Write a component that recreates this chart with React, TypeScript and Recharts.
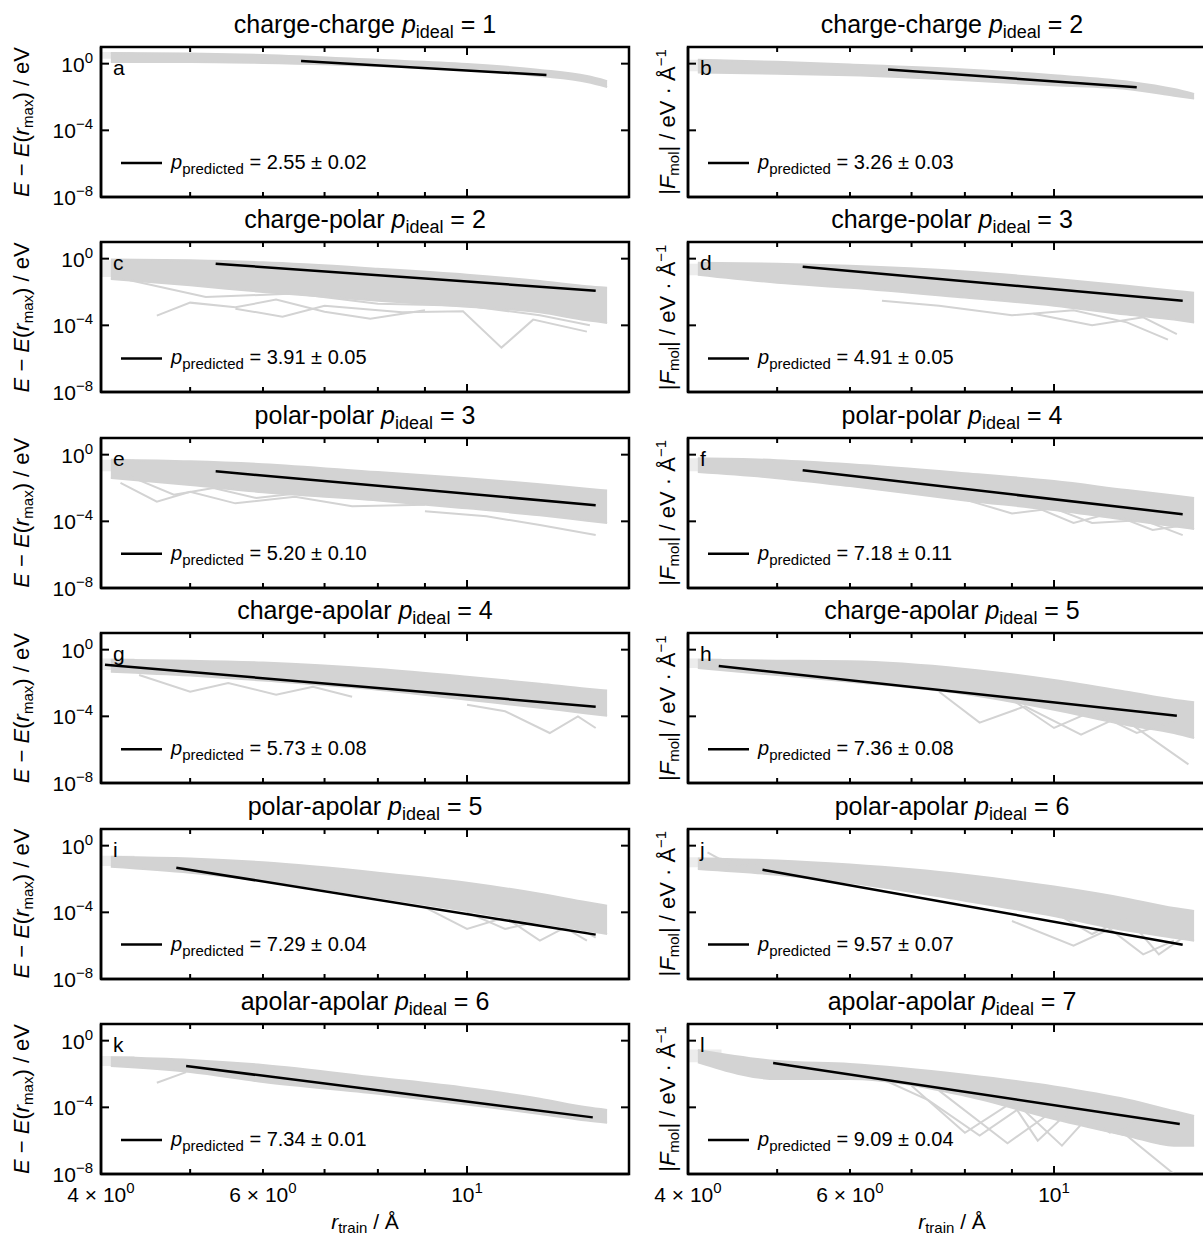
import { ComposedChart, Area, Line, XAxis, YAxis, ReferenceArea } from 'recharts';

const FONT = '"Liberation Sans", Arial, Helvetica, sans-serif';
const GREY = '#d3d3d3';
const FAINT = '#ececec';

// panel titles and fit results
const pairNames = ['charge-charge', 'charge-polar', 'polar-polar', 'charge-apolar', 'polar-apolar', 'apolar-apolar'];
const pIdealEnergy = [1, 2, 3, 4, 5, 6];
const pIdealForce = [2, 3, 4, 5, 6, 7];
const panelLetters = ['a', 'b', 'c', 'd', 'e', 'f', 'g', 'h', 'i', 'j', 'k', 'l'];
const pPredicted = ['2.55', '3.26', '3.91', '4.91', '5.20', '7.18', '5.73', '7.36', '7.29', '9.57', '7.34', '9.09'];
const pError = ['0.02', '0.03', '0.05', '0.05', '0.10', '0.11', '0.08', '0.08', '0.04', '0.07', '0.01', '0.04'];

// axis ticks
const xTicks = [4, 5, 6, 7, 8, 9, 10];
const xLabelValues = [4, 6, 10];
const xLabelBase = ['4 \u00d7 10', '6 \u00d7 10', '10'];
const xLabelExp = ['0', '0', '1'];
const yTicks = [1e-8, 1e-4, 1];
const yLabelExp = ['\u22128', '\u22124', '0'];

// r_train positions where the grey envelope of all curves was read
const bandX = [4.1, 5, 6, 8, 10, 12, 13.5, 14.2];

// envelope of the grey curves, upper and lower edge per panel
const upperA = [4.4, 4.1, 3.3, 1.7, 0.96, 0.42, 0.18, 0.09];
const lowerA = [1.26, 1.26, 1.1, 0.73, 0.42, 0.18, 0.08, 0.04];
const upperB = [1.7, 1.3, 0.9, 0.45, 0.2, 0.085, 0.03, 0.015];
const lowerB = [0.3, 0.25, 0.2, 0.1, 0.05, 0.03, 0.012, 0.008];
const upperC = [0.9, 0.8, 0.6, 0.25, 0.11, 0.045, 0.022, 0.018];
const lowerC = [0.06, 0.025, 0.01, 3e-3, 1.3e-3, 6e-4, 2e-4, 1.4e-4];
const upperD = [0.57, 0.5, 0.38, 0.17, 0.063, 0.024, 0.012, 0.009];
const lowerD = [0.11, 0.036, 0.018, 4.6e-3, 1.5e-3, 4.4e-4, 2.2e-4, 1.5e-4];
const upperE = [0.5, 0.4, 0.27, 0.09, 0.039, 0.017, 9e-3, 7e-3];
const lowerE = [0.04, 0.015, 5.6e-3, 1.8e-3, 6e-4, 2.3e-4, 1.1e-4, 8e-5];
const upperF = [0.6, 0.47, 0.27, 0.078, 0.026, 7.5e-3, 3.5e-3, 2.5e-3];
const lowerF = [0.09, 0.039, 0.013, 1.8e-3, 4.7e-4, 1.2e-4, 5e-5, 3.5e-5];
const upperG = [0.25, 0.22, 0.17, 0.07, 0.024, 9e-3, 4.5e-3, 3.5e-3];
const lowerG = [0.048, 0.028, 0.014, 4e-3, 1e-3, 3.3e-4, 1.5e-4, 1.1e-4];
const upperH = [0.25, 0.22, 0.2, 0.07, 0.015, 3e-3, 1e-3, 7e-4];
const lowerH = [0.08, 0.03, 0.012, 2.2e-3, 2.5e-4, 3e-5, 1e-5, 5e-6];
const upperI = [0.22, 0.17, 0.1, 0.024, 6e-3, 1.3e-3, 4e-4, 2.5e-4];
const lowerI = [0.055, 0.024, 8e-3, 8e-4, 1.2e-4, 2.2e-5, 8e-6, 5e-6];
const upperJ = [0.17, 0.13, 0.073, 0.018, 3.5e-3, 6.6e-4, 1.8e-4, 1.2e-4];
const lowerJ = [0.04, 0.018, 6e-3, 5e-4, 6e-5, 8e-6, 3e-6, 2e-6];
const upperK = [0.1, 0.07, 0.035, 6e-3, 1.45e-3, 3.3e-4, 1e-4, 7e-5];
const lowerK = [0.03, 0.013, 3.3e-3, 6.5e-4, 1.5e-4, 4e-5, 1.6e-5, 1.2e-5];
const upperL = [0.28, 0.06, 0.04, 9e-3, 1.8e-3, 3e-4, 6e-5, 3e-5];
const lowerL = [0.05, 5e-3, 5e-3, 5e-4, 2e-5, 2e-6, 5e-7, 5e-7];

// pale start of the curves at the smallest r_train: x range, upper, lower per panel
const faintX = [4.0, 4.35];
const faintUpper = [5, 1.7, 0.8, 0.5, 0.5, 0.6, 0.3, 0.3, 0.25, 0.2, 0.12, 0.3];
const faintLower = [2, 0.35, 0.08, 0.1, 0.1, 0.1, 0.06, 0.08, 0.06, 0.05, 0.03, 0.05];

// black power-law fit: start and end points
const fitX0 = [6.6, 6.6, 5.33, 5.33, 5.33, 5.33, 4.04, 4.32, 4.83, 4.82, 4.95, 4.95];
const fitX1 = [12.2, 12.3, 13.8, 13.8, 13.8, 13.8, 13.8, 13.6, 13.8, 13.8, 13.7, 13.7];
const fitY0 = [1.45, 0.45, 0.5, 0.33, 0.1, 0.117, 0.126, 0.105, 0.048, 0.036, 0.03, 0.046];
const fitY1 = [0.21, 0.038, 0.012, 3e-3, 9.3e-4, 2.7e-4, 3.8e-4, 1.1e-4, 4.6e-6, 1.15e-6, 2.5e-5, 1e-5];

// single grey curves that stick out of the envelope, [r, value]
const outC1 = [[4.6, 3.8e-4], [5.0, 2.3e-3], [5.6, 1.2e-3], [6.2, 3.5e-3], [7.0, 6.6e-4], [7.85, 2.5e-4], [9.0, 8e-4]];
const outC2 = [[5.6, 1e-3], [6.3, 3.3e-4], [7.0, 1.5e-3], [8.5, 6e-4], [9.9, 7e-4], [10.9, 4.6e-6], [11.8, 2.2e-4], [13.5, 4.2e-5]];
const outC3 = [[4.3, 0.05], [5.2, 5e-3], [6.5, 8e-3], [8, 2e-3], [10, 1.5e-3], [12, 4e-4], [13.6, 1e-4]];
const outD1 = [[6.5, 3e-3], [7.5, 1.5e-3], [9, 4e-4], [10.5, 8e-4], [12, 1.5e-4], [13.3, 1.4e-5]];
const outD2 = [[9.5, 5e-4], [11, 1e-4], [12.5, 3e-4], [13.6, 3e-5]];
const outE1 = [[4.2, 0.02], [4.6, 1.5e-3], [5.0, 6e-3], [5.6, 1.2e-3], [6.5, 3e-3], [7.5, 8e-4], [9, 1e-3]];
const outE2 = [[9, 4e-4], [10.5, 2e-4], [12, 6e-5], [13.8, 1.5e-5]];
const outE3 = [[4.3, 0.05], [4.8, 4e-3], [5.3, 1e-2], [5.9, 2.5e-3], [6.6, 5e-3]];
const outF1 = [[8, 2e-3], [9, 3e-4], [10, 6e-4], [11, 8e-5], [12.5, 1.2e-4], [13.8, 1.5e-5]];
const outF2 = [[9.5, 8e-4], [10.5, 8e-5], [11.5, 3e-4], [12.8, 3e-5], [13.9, 6e-5]];
const outG1 = [[4.4, 3e-2], [5, 3e-3], [5.5, 1e-2], [6.2, 2e-3], [6.8, 6e-3], [7.5, 1.5e-3]];
const outG2 = [[10, 5e-4], [11, 2e-4], [12.3, 1e-5], [13.2, 1e-4], [13.8, 2e-5]];
const outH1 = [[7.5, 3e-3], [8.3, 4.2e-5], [9.3, 4e-4], [10.7, 8e-6], [11.8, 1e-4], [14, 1.3e-7]];
const outH2 = [[9, 1e-3], [10, 2e-5], [11, 2e-4], [12.3, 1e-5], [13.5, 5e-5]];
const outI1 = [[9, 2e-4], [10, 1e-5], [11, 5e-5], [12, 2e-6], [13, 2e-5], [13.8, 3e-6]];
const outI2 = [[10, 1e-4], [11, 1e-5], [12.3, 4e-5], [13.5, 2e-6]];
const outJ1 = [[9, 3e-5], [10.5, 1e-6], [11.5, 1e-5], [12.5, 3e-7], [13.5, 2e-6]];
const outJ2 = [[4.2, 0.4], [4.5, 0.05], [4.8, 0.1]];
const outJ3 = [[10, 1e-4], [11, 5e-6], [12, 5e-5], [13, 3e-7], [13.8, 3e-6]];
const outK1 = [[4.6, 3e-3], [4.95, 0.013]];
const outL1 = [[7.0, 2e-3], [8.0, 3e-6], [9.0, 2e-4], [9.6, 1e-6], [10.5, 1e-4], [11.5, 3e-6], [12.5, 2e-5]];
const outL2 = [[7.5, 1e-3], [8.9, 7e-7], [9.8, 3e-5], [12, 2e-6], [13.5, 1e-8]];
const outL3 = [[6.5, 5e-3], [7.3, 2.7e-4], [8.3, 2e-6], [9.2, 1e-4], [10.2, 5e-7], [11, 5e-5]];

const uppers = [upperA, upperB, upperC, upperD, upperE, upperF, upperG, upperH, upperI, upperJ, upperK, upperL];
const lowers = [lowerA, lowerB, lowerC, lowerD, lowerE, lowerF, lowerG, lowerH, lowerI, lowerJ, lowerK, lowerL];
const outliers = [
  [], [], [outC1, outC2, outC3], [outD1, outD2], [outE1, outE2, outE3], [outF1, outF2],
  [outG1, outG2], [outH1, outH2], [outI1, outI2], [outJ1, outJ2, outJ3], [outK1], [outL1, outL2, outL3],
];

// layout
const PLOT_W = 528;
const PLOT_H = 150;
const COL_LEFT = [101, 688];
const ROW_TOP = 47;
const ROW_STEP = 195.4;
const ML = 70;
const MT = 6;
const MR = 6;
const MB = 40;
const AX = 1; // thin top / right axes so that they are drawn

const BottomTick = (props: any) => {
  const { x, y, payload, showLabel } = props;
  const v = payload.value;
  const len = v === 10 ? 8 : 5;
  const li = xLabelValues.indexOf(v);
  return (
    <g>
      <line x1={x} x2={x} y1={y} y2={y - len} stroke="#000" strokeWidth={2} />
      {showLabel && li >= 0 && (
        <text x={x} y={y + 28} textAnchor="middle" fontSize={21} fontFamily={FONT} fill="#000" style={{ whiteSpace: 'pre' }}>
          <tspan>{xLabelBase[li]}</tspan>
          <tspan fontSize={15} dy={-9}>{xLabelExp[li]}</tspan>
        </text>
      )}
    </g>
  );
};

const TopTick = (props: any) => {
  const { x, y, payload } = props;
  const len = payload.value === 10 ? 8 : 5;
  return <line x1={x} x2={x} y1={y} y2={y + len} stroke="#000" strokeWidth={2} />;
};

const LeftTick = (props: any) => {
  const { x, y, payload, showLabel } = props;
  const li = yTicks.indexOf(payload.value);
  return (
    <g>
      <line x1={x} x2={x + 8} y1={y} y2={y} stroke="#000" strokeWidth={2} />
      {showLabel && (
        <text x={x - 8} y={y + 8} textAnchor="end" fontSize={21} fontFamily={FONT} fill="#000">
          <tspan>10</tspan>
          <tspan fontSize={15} dy={-9}>{yLabelExp[li]}</tspan>
        </text>
      )}
    </g>
  );
};

const RightTick = (props: any) => {
  const { x, y } = props;
  return <line x1={x} x2={x - 8} y1={y} y2={y} stroke="#000" strokeWidth={2} />;
};

const spine = { stroke: '#000', strokeWidth: 2.5 };

const PanelChart = ({ idx }: { idx: number }) => {
  const row = Math.floor(idx / 2);
  const col = idx % 2;
  const left = COL_LEFT[col];
  const top = ROW_TOP + ROW_STEP * row;
  const band = bandX.map((x, i) => ({ x, band: [lowers[idx][i], uppers[idx][i]] }));
  const faint = faintX.map((x) => ({ x, band: [faintLower[idx], faintUpper[idx]] }));
  const fit = [
    { x: fitX0[idx], y: fitY0[idx] },
    { x: fitX1[idx], y: fitY1[idx] },
  ];
  return (
    <div style={{ position: 'absolute', left: left - ML, top: top - MT - AX }}>
      <ComposedChart
        width={ML + PLOT_W + AX + MR}
        height={MT + AX + PLOT_H + MB}
        margin={{ top: MT, right: MR, bottom: 0, left: 0 }}
      >
        <XAxis
          xAxisId="b"
          dataKey="x"
          type="number"
          scale="log"
          domain={[4, 15]}
          allowDataOverflow
          ticks={xTicks}
          interval={0}
          height={MB}
          axisLine={spine}
          tickLine={false}
          tickSize={0}
          tickMargin={0}
          tick={<BottomTick showLabel={row === 5} />}
        />
        <XAxis
          xAxisId="t"
          orientation="top"
          dataKey="x"
          type="number"
          scale="log"
          domain={[4, 15]}
          allowDataOverflow
          ticks={xTicks}
          interval={0}
          height={AX}
          axisLine={false}
          tickLine={false}
          tickSize={0}
          tickMargin={0}
          tick={<TopTick />}
        />
        <YAxis
          yAxisId="l"
          type="number"
          scale="log"
          domain={[1e-8, 10]}
          allowDataOverflow
          ticks={yTicks}
          interval={0}
          width={ML}
          axisLine={spine}
          tickLine={false}
          tickSize={0}
          tickMargin={0}
          tick={<LeftTick showLabel={col === 0} />}
        />
        <YAxis
          yAxisId="r"
          orientation="right"
          type="number"
          scale="log"
          domain={[1e-8, 10]}
          allowDataOverflow
          ticks={yTicks}
          interval={0}
          width={AX}
          axisLine={false}
          tickLine={false}
          tickSize={0}
          tickMargin={0}
          tick={<RightTick />}
        />
        <Area
          xAxisId="b"
          yAxisId="l"
          data={faint}
          dataKey="band"
          type="linear"
          stroke="none"
          fill={FAINT}
          fillOpacity={1}
          dot={false}
          activeDot={false}
          isAnimationActive={false}
        />
        <Area
          xAxisId="b"
          yAxisId="l"
          data={band}
          dataKey="band"
          type="monotone"
          stroke={GREY}
          strokeWidth={2}
          fill={GREY}
          fillOpacity={1}
          dot={false}
          activeDot={false}
          isAnimationActive={false}
        />
        {outliers[idx].map((pts, k) => (
          <Line
            key={k}
            xAxisId="b"
            yAxisId="l"
            data={pts.map(([x, y]) => ({ x, y }))}
            dataKey="y"
            type="linear"
            stroke={GREY}
            strokeWidth={2}
            dot={false}
            activeDot={false}
            isAnimationActive={false}
          />
        ))}
        <Line
          xAxisId="b"
          yAxisId="l"
          data={fit}
          dataKey="y"
          type="linear"
          stroke="#000"
          strokeWidth={2.5}
          dot={false}
          activeDot={false}
          isAnimationActive={false}
        />
        <ReferenceArea
          xAxisId="b"
          yAxisId="l"
          x1={4}
          x2={15}
          y1={1e-8}
          y2={10}
          fill="none"
          fillOpacity={0}
          stroke="#000"
          strokeWidth={2.5}
          ifOverflow="visible"
        />
      </ComposedChart>
    </div>
  );
};

const Labels = () => {
  const items = [];
  for (let idx = 0; idx < 12; idx++) {
    const row = Math.floor(idx / 2);
    const col = idx % 2;
    const left = COL_LEFT[col];
    const top = ROW_TOP + ROW_STEP * row;
    const cx = left + PLOT_W / 2;
    const pIdeal = col === 0 ? pIdealEnergy[row] : pIdealForce[row];
    items.push(
      <g key={idx}>
        <text x={cx} y={top - 14} textAnchor="middle" fontSize={25}>
          {`${pairNames[row]} `}
          <tspan fontStyle="italic">p</tspan>
          <tspan fontSize={18} dy={5}>ideal</tspan>
          <tspan dy={-5}>{` = ${pIdeal}`}</tspan>
        </text>
        <text x={left + 12} y={top + 28} fontSize={21}>{panelLetters[idx]}</text>
        <line x1={left + 20} x2={left + 61} y1={top + 116} y2={top + 116} stroke="#000" strokeWidth={2.5} />
        <text x={left + 70} y={top + 122} fontSize={20}>
          <tspan fontStyle="italic">p</tspan>
          <tspan fontSize={15} dy={5}>predicted</tspan>
          <tspan dy={-5}>{` = ${pPredicted[idx]} \u00b1 ${pError[idx]}`}</tspan>
        </text>
      </g>
    );
    const cy = top + PLOT_H / 2;
    if (col === 0) {
      items.push(
        <text key={`yl${idx}`} x={29} y={cy} transform={`rotate(-90 29 ${cy})`} textAnchor="middle" fontSize={22}>
          <tspan fontStyle="italic">E</tspan>
          <tspan>{' \u2212 '}</tspan>
          <tspan fontStyle="italic">E</tspan>
          <tspan>(</tspan>
          <tspan fontStyle="italic">r</tspan>
          <tspan fontSize={15} dy={4}>max</tspan>
          <tspan dy={-4}>{')  /  eV'}</tspan>
        </text>
      );
    } else {
      items.push(
        <text key={`yl${idx}`} x={675} y={cy} transform={`rotate(-90 675 ${cy})`} textAnchor="middle" fontSize={22}>
          <tspan>|</tspan>
          <tspan fontStyle="italic">F</tspan>
          <tspan fontSize={15} dy={4}>mol</tspan>
          <tspan dy={-4}>{'|  /  eV \u00b7 \u00c5'}</tspan>
          <tspan fontSize={15} dy={-9}>{'\u22121'}</tspan>
        </text>
      );
    }
  }
  for (let col = 0; col < 2; col++) {
    const cx = COL_LEFT[col] + PLOT_W / 2;
    items.push(
      <text key={`xl${col}`} x={cx} y={1229} textAnchor="middle" fontSize={21}>
        <tspan fontStyle="italic">r</tspan>
        <tspan fontSize={15} dy={4}>train</tspan>
        <tspan dy={-4}>{'  /  \u00c5'}</tspan>
      </text>
    );
  }
  return (
    <svg
      width={1203}
      height={1239}
      style={{ position: 'absolute', left: 0, top: 0, pointerEvents: 'none', whiteSpace: 'pre' }}
      fontFamily={FONT}
      fill="#000"
    >
      {items}
    </svg>
  );
};

export default function App() {
  return (
    <div
      style={{
        position: 'absolute',
        left: 0,
        top: 0,
        width: 1203,
        height: 1239,
        overflow: 'hidden',
        background: '#fff',
        fontFamily: FONT,
      }}
    >
      {panelLetters.map((_, idx) => (
        <PanelChart key={idx} idx={idx} />
      ))}
      <Labels />
    </div>
  );
}
